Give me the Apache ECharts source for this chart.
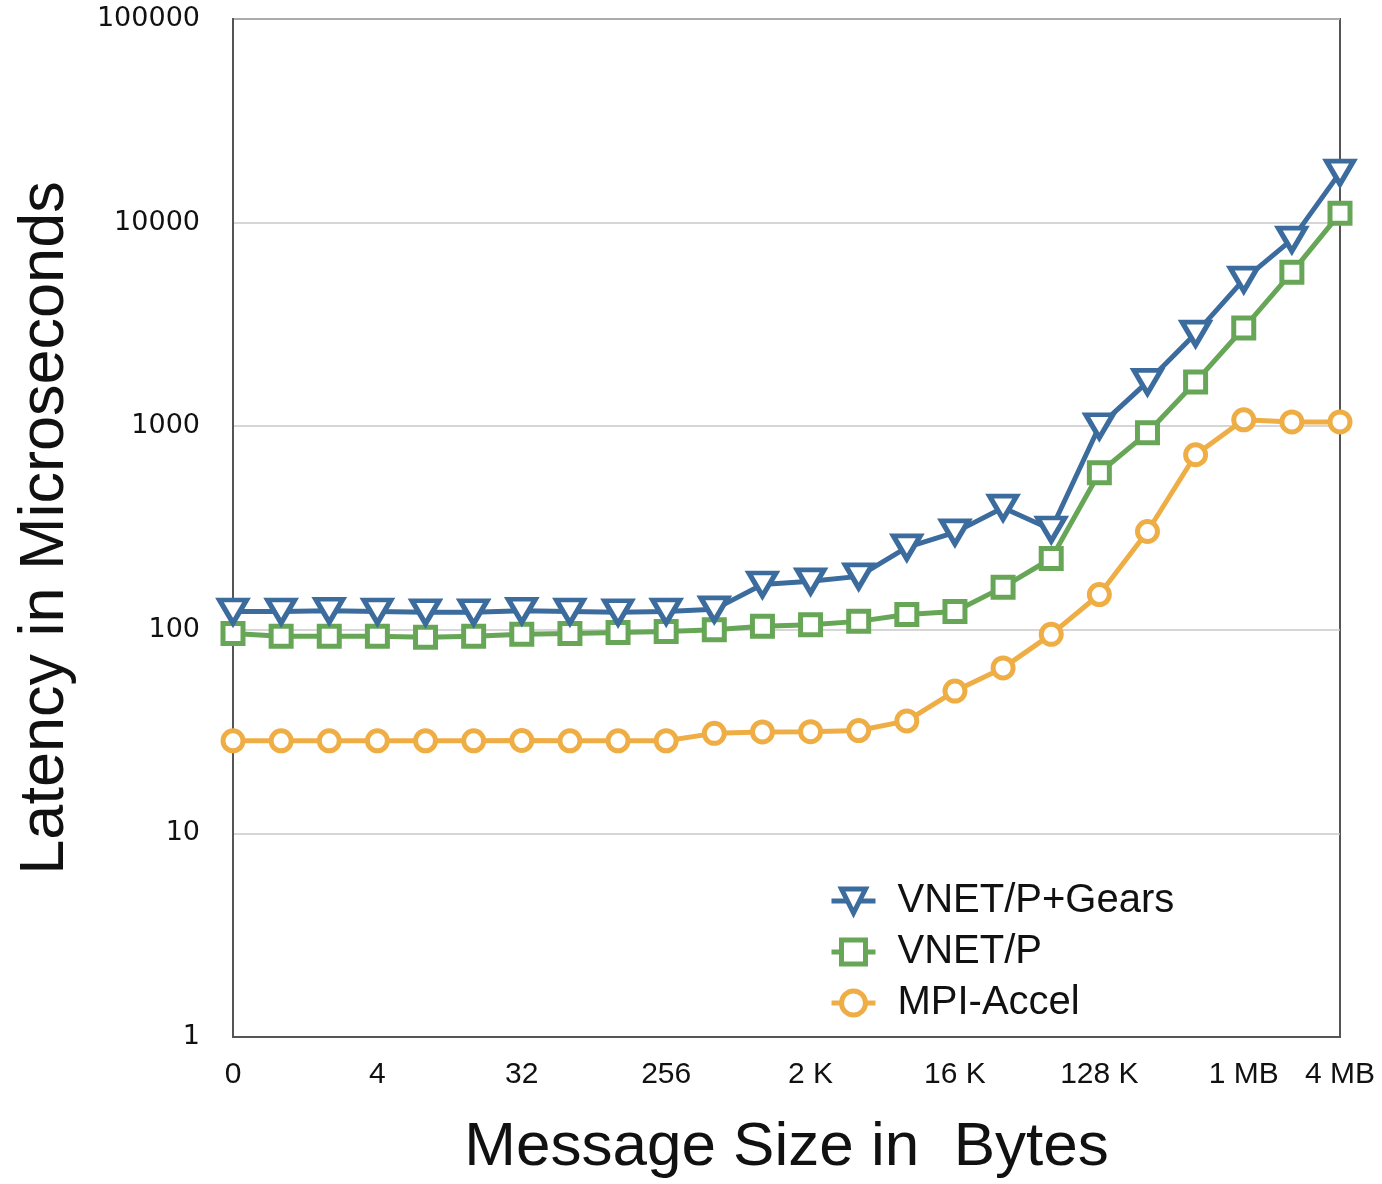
<!DOCTYPE html>
<html>
<head>
<meta charset="utf-8">
<script src="https://cdn.jsdelivr.net/npm/echarts@6/dist/echarts.min.js"></script>
<style>html,body{margin:0;padding:0;background:#fff;}#c{width:1382px;height:1184px;}</style>
</head>
<body>
<div id="c"></div>
<script>
const categories = ["0","1","2","4","8","16","32","64","128","256","512","1 K","2 K","4 K","8 K","16 K","32 K","64 K","128 K","256 K","512 K","1 MB","2 MB","4 MB"];
const gears = [123,123,124,123,122,122,124,123,122,123,126,167,173,183,254,301,398,311,1000,1650,2850,5250,8250,17600];
const vnetp = [96,93,93,93,92,93,95,96,97,98,100,104,106,110,119,123,162,224,591,928,1650,3035,5700,11100];
const mpi = [28.5,28.5,28.5,28.5,28.5,28.5,28.6,28.5,28.5,28.5,31,31.5,31.6,32,35.7,50,65,95,149,304,724,1075,1050,1050];
const yTicks = [1,10,100,1000,10000,100000];
const seriesNames = ["VNET/P+Gears","VNET/P","MPI-Accel"];

const blue = '#3B6C9D', green = '#67A656', orange = '#EFAE45';
const font = 'Liberation Sans, Arial, Helvetica, sans-serif';

const chart = echarts.init(document.getElementById('c'), null, {renderer:'canvas'});
chart.setOption({
  animation: false,
  backgroundColor: '#fff',
  grid: {left: 233, right: 42, top: 19, bottom: 145, show: true, borderColor: '#555', borderWidth: 2, backgroundColor: 'transparent'},
  legend: {
    data: seriesNames,
    orient: 'vertical',
    left: 824, top: 876,
    itemWidth: 44, itemHeight: 30, itemGap: 11,
    itemStyle: {borderWidth: 5},
    lineStyle: {width: 5},
    textStyle: {fontFamily: font, fontSize: 40, color: '#111', padding: [0,0,0,17]}
  },
  xAxis: {
    type: 'category', data: categories, boundaryGap: false,
    name: 'Message Size in  Bytes', nameLocation: 'middle', nameGap: 80,
    nameTextStyle: {fontFamily: font, fontSize: 62, color: '#111'},
    axisLine: {lineStyle: {color: '#555', width: 2}},
    axisTick: {show: false},
    axisLabel: {fontFamily: font, fontSize: 30, color: '#111', margin: 23,
      interval: (i) => i % 3 === 0 || i === categories.length - 1},
    splitLine: {show: false}
  },
  yAxis: {
    type: 'log', logBase: 10, min: yTicks[0], max: yTicks[yTicks.length-1],
    name: 'Latency in Microseconds', nameLocation: 'middle', nameGap: 156, nameRotate: 90,
    nameTextStyle: {fontFamily: font, fontSize: 63, color: '#111'},
    axisLine: {show: true, lineStyle: {color: '#555', width: 2}},
    axisTick: {show: false},
    axisLabel: {fontFamily: 'DejaVu Sans, sans-serif', fontSize: 27, color: '#111', margin: 33,
      formatter: (v) => String(Math.round(v))},
    splitLine: {show: true, lineStyle: {color: '#c8c8c8', width: 1.5}}
  },
  series: [
    {name: seriesNames[1], type: 'line', data: vnetp, z: 3,
      symbol: 'rect', symbolSize: 20,
      lineStyle: {color: green, width: 5}, itemStyle: {color: '#fff', borderColor: green, borderWidth: 5}},
    {name: seriesNames[0], type: 'line', data: gears, z: 4,
      symbol: 'triangle', symbolRotate: 180, symbolSize: [27, 23],
      lineStyle: {color: blue, width: 5}, itemStyle: {color: '#fff', borderColor: blue, borderWidth: 5}},
    {name: seriesNames[2], type: 'line', data: mpi, z: 2,
      symbol: 'circle', symbolSize: 20,
      lineStyle: {color: orange, width: 5}, itemStyle: {color: '#fff', borderColor: orange, borderWidth: 5}}
  ]
});
</script>
</body>
</html>
